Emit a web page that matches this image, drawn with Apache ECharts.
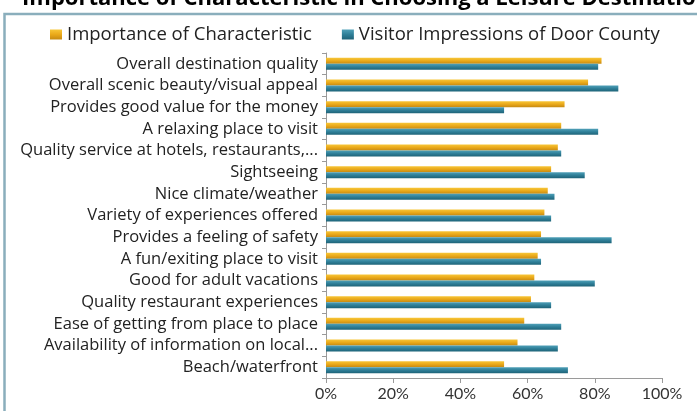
<!DOCTYPE html>
<html><head><meta charset="utf-8">
<script src="https://cdn.jsdelivr.net/npm/echarts@6/dist/echarts.min.js"></script>
<style>html,body{margin:0;padding:0;background:#fff}#c{width:697px;height:411px}</style>
</head><body><div id="c"></div>
<script>
const titleText = 'Importance of Characteristic in Choosing a Leisure Destination';
const categories = [
  'Overall destination quality',
  'Overall scenic beauty/visual appeal',
  'Provides good value for the money',
  'A relaxing place to visit',
  'Quality service at hotels, restaurants,...',
  'Sightseeing',
  'Nice climate/weather',
  'Variety of experiences offered',
  'Provides a feeling of safety',
  'A fun/exiting place to visit',
  'Good for adult vacations',
  'Quality restaurant experiences',
  'Ease of getting from place to place',
  'Availability of information on local...',
  'Beach/waterfront'
];
const seriesNames = ['Importance of Characteristic', 'Visitor Impressions of Door County'];
const importance = [82, 78, 71, 70, 69, 67, 66, 65, 64, 63, 62, 61, 59, 57, 53];
const impressions = [81, 87, 53, 81, 70, 77, 68, 67, 85, 64, 80, 67, 70, 69, 72];
const xTicks = [0, 20, 40, 60, 80, 100];

const FONT = '"Open Sans", Lato, sans-serif';
const orangeGrad = new echarts.graphic.LinearGradient(0, 0, 0, 1, [
  {offset: 0, color: '#f7c638'}, {offset: 0.5, color: '#eaa91a'}, {offset: 1, color: '#c78a12'}]);
const blueGrad = new echarts.graphic.LinearGradient(0, 0, 0, 1, [
  {offset: 0, color: '#4fa0b8'}, {offset: 0.5, color: '#2f7f98'}, {offset: 1, color: '#1e6378'}]);

const chart = echarts.init(document.getElementById('c'), null, {renderer: 'canvas'});
chart.setOption({
  animation: false,
  textStyle: {fontFamily: FONT},
  graphic: [
    {type: 'rect', shape: {x: 4.5, y: 14, width: 720, height: 420}, style: {fill: 'none', stroke: '#8aaebc', lineWidth: 2.5}, z: -1},
    {type: 'text', x: 22, y: -1, style: {text: titleText, font: 'bold 22px ' + FONT, fill: '#000', verticalAlign: 'middle'}}
  ],
  legend: {
    top: 20, left: 45,
    itemWidth: 12, itemHeight: 10, itemGap: 30,
    icon: 'rect',
    textStyle: {fontSize: 18.5, color: '#222', fontFamily: FONT},
    data: seriesNames
  },
  grid: {left: 326, right: 35, top: 53, bottom: 33, containLabel: false},
  xAxis: {
    type: 'value', min: 0, max: 100, interval: 20,
    axisLine: {show: true, lineStyle: {color: '#9a9a9a'}},
    axisTick: {show: true, length: 5, inside: false, lineStyle: {color: '#9a9a9a'}},
    splitLine: {show: false},
    axisLabel: {formatter: v => xTicks.includes(v) ? v + '%' : '', fontSize: 16, color: '#333', margin: 8, fontFamily: 'Lato, sans-serif'}
  },
  yAxis: {
    type: 'category', data: categories, inverse: true,
    axisLine: {show: true, lineStyle: {color: '#9a9a9a'}},
    axisTick: {show: true, length: 4, lineStyle: {color: '#9a9a9a'}},
    axisLabel: {fontSize: 16.5, color: '#222', margin: 8, interval: 0, hideOverlap: false}
  },
  series: [
    {name: seriesNames[0], type: 'bar', data: importance, barWidth: 6, barGap: '0%',
     itemStyle: {color: orangeGrad}},
    {name: seriesNames[1], type: 'bar', data: impressions, barWidth: 6, barGap: '0%',
     itemStyle: {color: blueGrad}}
  ]
});
</script></body></html>
